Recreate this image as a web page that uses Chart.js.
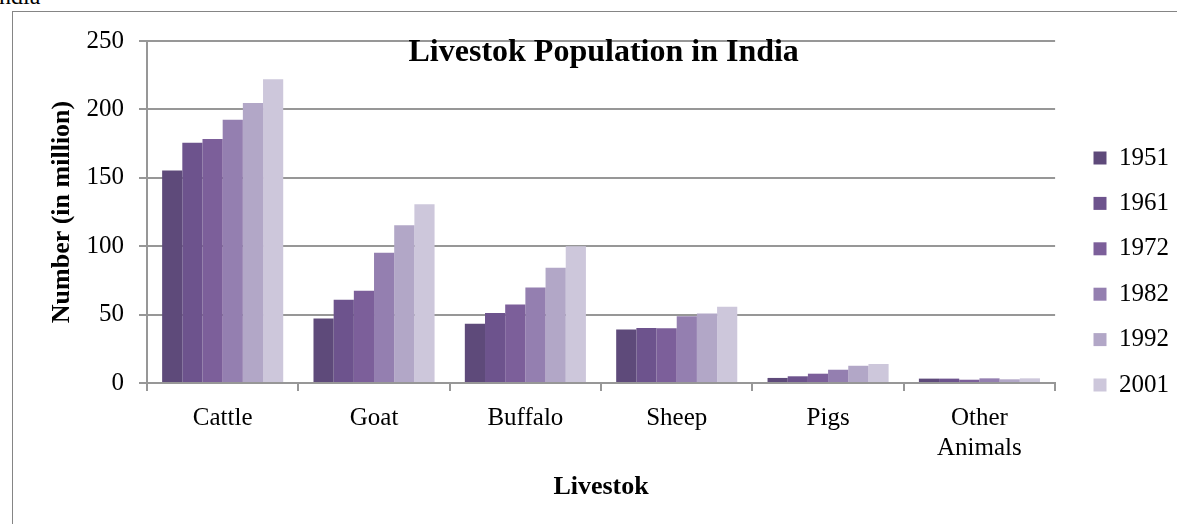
<!DOCTYPE html>
<html>
<head>
<meta charset="utf-8">
<script src="https://cdn.jsdelivr.net/npm/chart.js@4.4.0/dist/chart.umd.min.js"></script>
<style>
  body { margin: 0; background: #fff; overflow: hidden; }
  #caption { position: absolute; left: -9px; top: -16px; font: 24px/24px "Liberation Serif", serif; color: #000; }
  #frame { position: absolute; left: 12px; top: 11px; width: 1300px; height: 600px; border-left: 1px solid #858585; border-top: 1px solid #858585; }
  #wrap { position: absolute; left: 13px; top: 11px; }
</style>
</head>
<body>
<div id="caption">India</div>
<div id="frame"></div>
<div id="wrap"><canvas id="livestockChart" width="1164" height="513"></canvas></div>
<script>
const livestockChart = document.getElementById("livestockChart");

const categories = ["Cattle", "Goat", "Buffalo", "Sheep", "Pigs", ["Other", "Animals"]];
const years = ["1951", "1961", "1972", "1982", "1992", "2001"];

// population in million
const pop1951 = [155.3, 47.2, 43.4, 39.1, 3.7, 3.2];
const pop1961 = [175.6, 60.9, 51.2, 40.2, 4.9, 3.2];
const pop1972 = [178.3, 67.5, 57.4, 40.0, 6.8, 2.4];
const pop1982 = [192.5, 95.3, 69.8, 48.8, 9.7, 3.4];
const pop1992 = [204.6, 115.3, 84.2, 50.8, 12.6, 2.7];
const pop2001 = [222.1, 130.6, 100.0, 55.8, 13.9, 3.4];

const yTicks = [0, 50, 100, 150, 200, 250];

const series = [pop1951, pop1961, pop1972, pop1982, pop1992, pop2001];
const colors = ["#5e4a7a", "#6d538d", "#7c5f9a", "#947fb0", "#b2a7c7", "#cdc7db"];

const serif = "'Liberation Serif', 'Times New Roman', serif";
const lineGray = "#979797";

Chart.defaults.font.family = serif;
Chart.defaults.color = "#000";

// move the legend a little right of the plot, like the original
const legendNudge = {
  id: "legendNudge",
  afterLayout(chart) {
    chart.legend.left += 18;
    chart.legend.right += 18;
  },
};

new Chart(livestockChart, {
  type: "bar",
  data: {
    labels: categories,
    datasets: years.map((y, i) => ({
      label: y,
      data: series[i],
      backgroundColor: colors[i],
      borderWidth: 0,
      barPercentage: 1,
      categoryPercentage: 0.8,
    })),
  },
  options: {
    responsive: false,
    animation: false,
    layout: {
      padding: { left: 33.4, right: 16, top: 10, bottom: 2 },
    },
    plugins: {
      title: {
        display: true,
        text: "Livestok Population in India",
        color: "#000",
        font: { family: serif, size: 32, weight: "bold" },
        padding: { top: 11.8, bottom: -31.2 },
      },
      legend: {
        position: "right",
        labels: {
          boxWidth: 13,
          boxHeight: 13,
          padding: 20.4,
          color: "#000",
          font: { family: serif, size: 25 },
        },
      },
      tooltip: { enabled: false },
    },
    scales: {
      x: {
        grid: {
          display: true,
          drawOnChartArea: false,
          drawTicks: true,
          tickLength: 8,
          color: lineGray,
          lineWidth: 2,
        },
        border: { display: true, color: lineGray, width: 2 },
        ticks: {
          padding: 12,
          maxRotation: 0,
          autoSkip: false,
          font: { family: serif, size: 25 },
        },
        title: {
          display: true,
          text: "Livestok",
          font: { family: serif, size: 26, weight: "bold" },
          padding: { top: -3.6, bottom: 19.4 },
        },
      },
      y: {
        min: yTicks[0],
        max: yTicks[yTicks.length - 1],
        grid: { color: lineGray, lineWidth: 2, tickLength: 8 },
        border: { display: true, color: lineGray, width: 2 },
        ticks: {
          stepSize: 50,
          padding: 15,
          font: { family: serif, size: 25 },
        },
        title: {
          display: true,
          text: "Number (in million)",
          font: { family: serif, size: 26, weight: "bold" },
          padding: { top: 0, bottom: -6.1 },
        },
      },
    },
  },
  plugins: [legendNudge],
});
</script>
</body>
</html>
